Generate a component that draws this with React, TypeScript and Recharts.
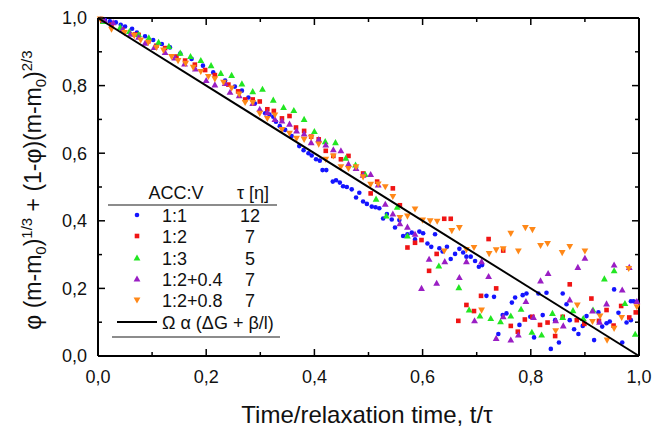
import React from 'react';
import { ScatterChart, Scatter, XAxis, YAxis, Legend } from 'recharts';

// tick positions (labels only every 0.2)
const axisTicks = [0, 0.1, 0.2, 0.3, 0.4, 0.5, 0.6, 0.7, 0.8, 0.9, 1.0];

const seriesNames = ['1:1', '1:2', '1:3', '1:2+0.4', '1:2+0.8'];
const tauValues = ['12', '7', '5', '7', '7'];

const x11 = [0.005, 0.013, 0.022, 0.033, 0.042, 0.05, 0.063, 0.072, 0.087, 0.102, 0.118, 0.133, 0.152, 0.173, 0.194, 0.213, 0.235, 0.253, 0.266, 0.278, 0.29, 0.309, 0.317, 0.324, 0.329, 0.336, 0.346, 0.358, 0.372, 0.38, 0.389, 0.395, 0.403, 0.41, 0.415, 0.422, 0.434, 0.44, 0.447, 0.453, 0.46, 0.469, 0.477, 0.483, 0.49, 0.497, 0.506, 0.513, 0.52, 0.527, 0.534, 0.543, 0.549, 0.557, 0.564, 0.572, 0.58, 0.586, 0.594, 0.601, 0.609, 0.616, 0.623, 0.631, 0.637, 0.645, 0.652, 0.66, 0.668, 0.675, 0.681, 0.689, 0.697, 0.704, 0.71, 0.718, 0.732, 0.74, 0.748, 0.755, 0.765, 0.771, 0.779, 0.785, 0.792, 0.799, 0.806, 0.814, 0.822, 0.829, 0.837, 0.845, 0.852, 0.859, 0.866, 0.872, 0.88, 0.888, 0.896, 0.903, 0.917, 0.925, 0.932, 0.94, 0.946, 0.954, 0.962, 0.969, 0.977, 0.985, 0.985, 0.99, 0.996];
const y11 = [0.998, 0.994, 0.99, 0.987, 0.98, 0.975, 0.968, 0.957, 0.946, 0.935, 0.923, 0.913, 0.895, 0.879, 0.859, 0.839, 0.815, 0.797, 0.785, 0.765, 0.747, 0.718, 0.714, 0.708, 0.693, 0.68, 0.669, 0.651, 0.621, 0.609, 0.6, 0.593, 0.582, 0.578, 0.55, 0.55, 0.516, 0.52, 0.513, 0.502, 0.5, 0.493, 0.469, 0.483, 0.457, 0.45, 0.442, 0.44, 0.437, 0.407, 0.42, 0.404, 0.38, 0.402, 0.355, 0.36, 0.365, 0.345, 0.368, 0.363, 0.333, 0.323, 0.36, 0.319, 0.309, 0.323, 0.287, 0.302, 0.317, 0.306, 0.294, 0.294, 0.281, 0.264, 0.269, 0.178, 0.175, 0.065, 0.121, 0.126, 0.158, 0.173, 0.092, 0.18, 0.185, 0.116, 0.055, 0.185, 0.121, 0.187, 0.021, 0.106, 0.04, 0.185, 0.153, 0.106, 0.079, 0.065, 0.089, 0.118, 0.047, 0.129, 0.087, 0.097, 0.102, 0.197, 0.128, 0.04, 0.099, 0.106, 0.162, 0.162, 0.16];

const x12 = [0.008, 0.025, 0.045, 0.068, 0.075, 0.093, 0.108, 0.124, 0.145, 0.161, 0.179, 0.198, 0.216, 0.241, 0.259, 0.272, 0.286, 0.299, 0.313, 0.325, 0.34, 0.354, 0.366, 0.381, 0.394, 0.408, 0.421, 0.435, 0.449, 0.463, 0.49, 0.504, 0.516, 0.545, 0.558, 0.572, 0.586, 0.598, 0.612, 0.626, 0.64, 0.652, 0.666, 0.681, 0.695, 0.708, 0.722, 0.736, 0.749, 0.763, 0.776, 0.789, 0.803, 0.817, 0.831, 0.845, 0.859, 0.872, 0.885, 0.899, 0.912, 0.926, 0.94, 0.953, 0.967, 0.982, 0.994];
const y12 = [0.99, 0.98, 0.965, 0.951, 0.95, 0.931, 0.918, 0.911, 0.886, 0.874, 0.862, 0.846, 0.831, 0.803, 0.783, 0.759, 0.759, 0.753, 0.73, 0.725, 0.703, 0.71, 0.676, 0.666, 0.649, 0.641, 0.607, 0.592, 0.582, 0.592, 0.54, 0.481, 0.516, 0.496, 0.446, 0.321, 0.335, 0.343, 0.252, 0.302, 0.406, 0.406, 0.104, 0.151, 0.133, 0.178, 0.346, 0.2, 0.312, 0.089, 0.072, 0.108, 0.116, 0.092, 0.099, 0.059, 0.116, 0.212, 0.106, 0.095, 0.17, 0.104, 0.136, 0.09, 0.148, 0.114, 0.129];

const x13 = [0.01, 0.041, 0.058, 0.075, 0.094, 0.112, 0.131, 0.152, 0.171, 0.19, 0.209, 0.227, 0.247, 0.266, 0.286, 0.304, 0.324, 0.343, 0.362, 0.381, 0.4, 0.42, 0.439, 0.458, 0.476, 0.494, 0.514, 0.533, 0.553, 0.572, 0.63, 0.667, 0.686, 0.706, 0.726, 0.744, 0.763, 0.782, 0.802, 0.82, 0.84, 0.859, 0.878, 0.897, 0.915, 0.936, 0.954, 0.974, 0.993];
const y13 = [0.99, 0.972, 0.96, 0.951, 0.941, 0.928, 0.916, 0.896, 0.886, 0.874, 0.859, 0.836, 0.83, 0.805, 0.782, 0.789, 0.757, 0.735, 0.726, 0.7, 0.664, 0.634, 0.631, 0.585, 0.565, 0.537, 0.464, 0.414, 0.44, 0.355, 0.266, 0.202, 0.136, 0.118, 0.111, 0.101, 0.118, 0.138, 0.07, 0.062, 0.126, 0.114, 0.134, 0.111, 0.136, 0.228, 0.252, 0.155, 0.064];

const x124 = [0.012, 0.028, 0.045, 0.06, 0.075, 0.087, 0.104, 0.124, 0.142, 0.16, 0.18, 0.2, 0.216, 0.235, 0.244, 0.261, 0.286, 0.299, 0.313, 0.327, 0.34, 0.354, 0.367, 0.381, 0.394, 0.408, 0.421, 0.435, 0.449, 0.463, 0.477, 0.49, 0.504, 0.518, 0.531, 0.545, 0.558, 0.572, 0.586, 0.598, 0.612, 0.626, 0.641, 0.668, 0.681, 0.696, 0.709, 0.722, 0.736, 0.749, 0.763, 0.777, 0.791, 0.805, 0.818, 0.832, 0.846, 0.86, 0.872, 0.887, 0.9, 0.914, 0.927, 0.94, 0.954, 0.969, 0.982, 0.996];
const y124 = [0.993, 0.986, 0.965, 0.952, 0.943, 0.925, 0.913, 0.898, 0.882, 0.864, 0.849, 0.815, 0.802, 0.806, 0.78, 0.77, 0.747, 0.73, 0.72, 0.7, 0.695, 0.686, 0.666, 0.657, 0.631, 0.64, 0.624, 0.61, 0.607, 0.568, 0.555, 0.535, 0.537, 0.506, 0.449, 0.42, 0.391, 0.381, 0.36, 0.2, 0.286, 0.215, 0.279, 0.232, 0.279, 0.104, 0.279, 0.235, 0.052, 0.116, 0.047, 0.062, 0.161, 0.114, 0.222, 0.244, 0.104, 0.089, 0.166, 0.262, 0.289, 0.133, 0.1, 0.154, 0.269, 0.195, 0.262, 0.161];

const x128 = [0.004, 0.025, 0.049, 0.067, 0.079, 0.093, 0.108, 0.121, 0.136, 0.148, 0.162, 0.176, 0.19, 0.204, 0.216, 0.232, 0.247, 0.261, 0.272, 0.286, 0.299, 0.313, 0.327, 0.34, 0.354, 0.367, 0.381, 0.394, 0.408, 0.421, 0.435, 0.449, 0.463, 0.477, 0.49, 0.504, 0.518, 0.531, 0.545, 0.558, 0.572, 0.586, 0.6, 0.614, 0.627, 0.64, 0.654, 0.668, 0.681, 0.695, 0.709, 0.723, 0.736, 0.749, 0.763, 0.777, 0.79, 0.803, 0.818, 0.831, 0.846, 0.858, 0.872, 0.886, 0.9, 0.914, 0.928, 0.941, 0.954, 0.968, 0.981, 0.996];
const y128 = [0.997, 0.967, 0.957, 0.948, 0.935, 0.928, 0.913, 0.905, 0.886, 0.874, 0.866, 0.854, 0.842, 0.827, 0.82, 0.81, 0.793, 0.775, 0.75, 0.75, 0.718, 0.703, 0.713, 0.67, 0.659, 0.644, 0.641, 0.647, 0.627, 0.582, 0.592, 0.56, 0.555, 0.56, 0.53, 0.508, 0.509, 0.501, 0.472, 0.41, 0.414, 0.435, 0.402, 0.4, 0.399, 0.311, 0.371, 0.38, 0.315, 0.321, 0.136, 0.303, 0.314, 0.317, 0.363, 0.311, 0.38, 0.374, 0.327, 0.333, 0.075, 0.306, 0.324, 0.151, 0.311, 0.102, 0.118, 0.047, 0.082, 0.114, 0.259, 0.146];

// model line
const fitX = [0, 1];
const fitY = [1, 0];

const toPoints = (xs: number[], ys: number[]) => xs.map((x, i) => ({ x, y: ys[i] }));

const FONT = 'Arial, "Liberation Sans", sans-serif';
const COLORS = ['#1414ff', '#f01414', '#22e622', '#9a1ec4', '#ff8818'];

const fmt = (v: number) => v.toFixed(1).replace('.', ',');
const isMajor = (v: number) => Math.round(v * 10) % 2 === 0;

const Dot = ({ cx, cy, fill }: any) => <circle cx={cx} cy={cy} r={2.3} fill={fill} />;
const Sq = ({ cx, cy, fill }: any) => <rect x={cx - 2.3} y={cy - 2.3} width={4.6} height={4.6} fill={fill} />;
const TriUp = ({ cx, cy, fill }: any) => (
  <polygon points={`${cx},${cy - 3.6} ${cx - 3.4},${cy + 2.5} ${cx + 3.4},${cy + 2.5}`} fill={fill} />
);
const TriDown = ({ cx, cy, fill }: any) => (
  <polygon points={`${cx},${cy + 3.6} ${cx - 3.4},${cy - 2.5} ${cx + 3.4},${cy - 2.5}`} fill={fill} />
);
const SHAPES = [Dot, Sq, TriUp, TriUp, TriDown];

function BottomTick(props: any) {
  const { x, y, payload } = props;
  const major = isMajor(payload.value);
  return (
    <g>
      <line x1={x} x2={x} y1={y} y2={y - (major ? 7 : 4)} stroke="#000" strokeWidth={1.5} />
      {major && (
        <text x={x} y={y + 27} textAnchor="middle" fontSize={18} fontFamily={FONT} fill="#111">
          {fmt(payload.value)}
        </text>
      )}
    </g>
  );
}

function TopTick(props: any) {
  const { x, y, payload } = props;
  const major = isMajor(payload.value);
  return <line x1={x} x2={x} y1={y} y2={y + (major ? 7 : 4)} stroke="#000" strokeWidth={1.5} />;
}

function LeftTick(props: any) {
  const { x, y, payload } = props;
  const major = isMajor(payload.value);
  return (
    <g>
      <line x1={x} x2={x + (major ? 7 : 4)} y1={y} y2={y} stroke="#000" strokeWidth={1.5} />
      {major && (
        <text x={x - 11} y={y} dy="0.36em" textAnchor="end" fontSize={18} fontFamily={FONT} fill="#111">
          {fmt(payload.value)}
        </text>
      )}
    </g>
  );
}

function RightTick(props: any) {
  const { x, y, payload } = props;
  const major = isMajor(payload.value);
  return <line x1={x} x2={x - (major ? 7 : 4)} y1={y} y2={y} stroke="#000" strokeWidth={1.5} />;
}

const XTitle = () => (
  <text x={367} y={423} textAnchor="middle" fontSize={24} fontFamily={FONT} fill="#111">
    Time/relaxation time, t/τ
  </text>
);

const YTitle = () => (
  <text x={41} y={190} transform="rotate(-90, 41, 190)" textAnchor="middle" fontSize={23} fontFamily={FONT} fill="#111">
    <tspan>φ (m-m</tspan>
    <tspan dy={5} fontSize={15}>0</tspan>
    <tspan dy={-5}>)</tspan>
    <tspan dy={-9} fontSize={15}>1/3</tspan>
    <tspan dy={9}> + (1-φ)(m-m</tspan>
    <tspan dy={5} fontSize={15}>0</tspan>
    <tspan dy={-5}>)</tspan>
    <tspan dy={-9} fontSize={15}>2/3</tspan>
  </text>
);

function LegendBox() {
  const rows = [37, 58, 80, 101, 122];
  return (
    <svg width={180} height={165} style={{ display: 'block', overflow: 'visible' }}>
      <g fontFamily={FONT} fontSize={18} fill="#111">
        <text x={68} y={21} textAnchor="middle">ACC:V</text>
        <text x={145} y={21} textAnchor="middle">τ [η]</text>
        <line x1={0} x2={169} y1={27} y2={27} stroke="#666" strokeWidth={1.5} />
        {seriesNames.map((name, i) => {
          const Shape = SHAPES[i];
          return (
            <g key={name}>
              <Shape cx={29} cy={rows[i]} fill={COLORS[i]} />
              <text x={54} y={rows[i] + 6.5}>{name}</text>
              <text x={142} y={rows[i] + 6.5} textAnchor="middle">{tauValues[i]}</text>
            </g>
          );
        })}
        <line x1={9} x2={49} y1={144} y2={144} stroke="#000" strokeWidth={2} />
        <text x={54} y={150.5}>Ω α (ΔG + β/l)</text>
        <line x1={4} x2={172} y1={159} y2={159} stroke="#666" strokeWidth={1.5} />
      </g>
    </svg>
  );
}

const seriesData = [
  toPoints(x11, y11),
  toPoints(x12, y12),
  toPoints(x13, y13),
  toPoints(x124, y124),
  toPoints(x128, y128),
];

export default function App() {
  const axisLine = { stroke: '#000', strokeWidth: 2 };
  return (
    <div style={{ position: 'absolute', left: 0, top: 0, background: '#fff' }}>
      <ScatterChart width={667} height={431} margin={{ top: 10, right: 18, bottom: 35, left: 48 }}>
        <XAxis
          xAxisId="b"
          dataKey="x"
          type="number"
          domain={[0, 1]}
          ticks={axisTicks}
          interval={0}
          height={40}
          tickSize={0}
          tickMargin={0}
          tickLine={false}
          axisLine={axisLine}
          tick={<BottomTick />}
          label={<XTitle />}
        />
        <XAxis
          xAxisId="t"
          orientation="top"
          dataKey="x"
          type="number"
          domain={[0, 1]}
          ticks={axisTicks}
          interval={0}
          height={8}
          tickSize={0}
          tickMargin={0}
          tickLine={false}
          axisLine={axisLine}
          tick={<TopTick />}
        />
        <YAxis
          yAxisId="l"
          dataKey="y"
          type="number"
          domain={[0, 1]}
          ticks={axisTicks}
          interval={0}
          width={50}
          tickSize={0}
          tickMargin={0}
          tickLine={false}
          axisLine={axisLine}
          tick={<LeftTick />}
          label={<YTitle />}
        />
        <YAxis
          yAxisId="r"
          orientation="right"
          dataKey="y"
          type="number"
          domain={[0, 1]}
          ticks={axisTicks}
          interval={0}
          width={10}
          tickSize={0}
          tickMargin={0}
          tickLine={false}
          axisLine={axisLine}
          tick={<RightTick />}
        />
        {seriesData.map((pts, i) => {
          const Shape = SHAPES[i];
          return (
            <Scatter
              key={seriesNames[i]}
              name={seriesNames[i]}
              data={pts}
              xAxisId="b"
              yAxisId="l"
              fill={COLORS[i]}
              isAnimationActive={false}
              shape={(p: any) => <Shape cx={p.cx} cy={p.cy} fill={COLORS[i]} />}
            />
          );
        })}
        <Scatter
          name="model"
          data={toPoints(fitX, fitY)}
          xAxisId="t"
          yAxisId="r"
          fill="#000"
          line={{ stroke: '#000', strokeWidth: 2 }}
          shape={() => <g />}
          isAnimationActive={false}
        />
        <Legend
          layout="horizontal"
          verticalAlign="middle"
          align="center"
          wrapperStyle={{ left: 108, top: 178, width: 180, height: 165 }}
          content={() => <LegendBox />}
        />
      </ScatterChart>
    </div>
  );
}
